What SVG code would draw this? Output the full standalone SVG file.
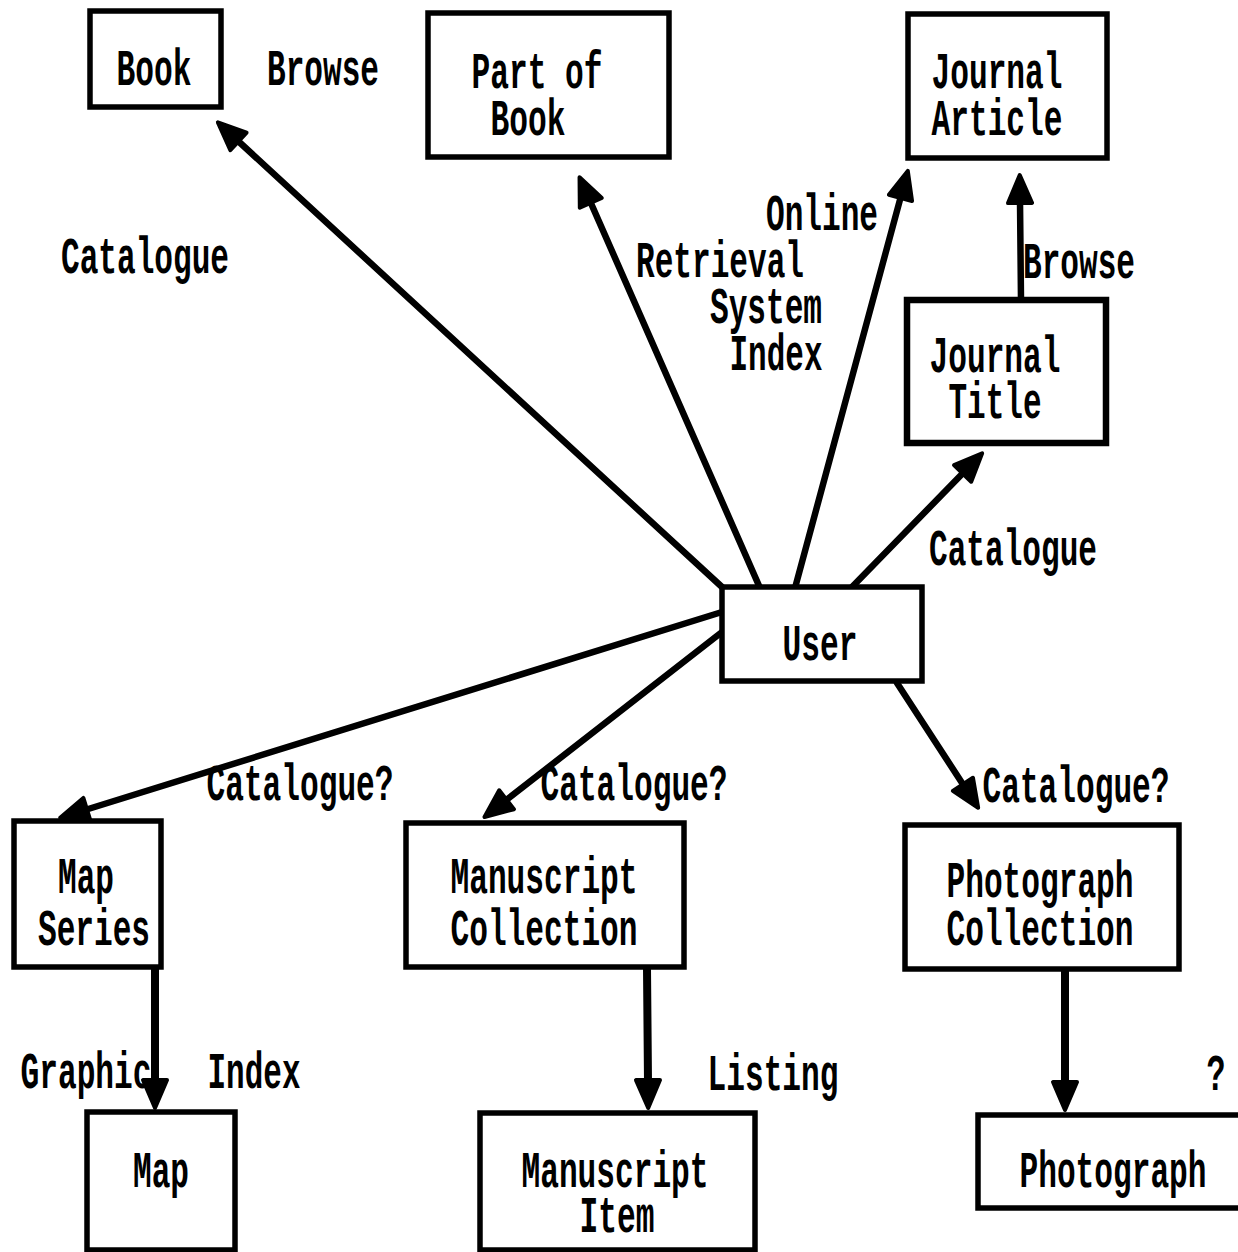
<svg xmlns="http://www.w3.org/2000/svg" width="1238" height="1252" viewBox="0 0 1238 1252">
<style>
  .box { fill: #fff; stroke: #000; stroke-width: 5.5; }
  .t { font-family: "Liberation Mono", "DejaVu Sans Mono", monospace; font-size: 52px; font-weight: bold; fill: #000; text-anchor: middle; }
  .c { fill: none; stroke: #000; stroke-width: 6.5; stroke-linecap: round; }
  .cv { stroke-width: 8; }
</style>
<defs>
  <marker id="ah" markerUnits="userSpaceOnUse" markerWidth="40" markerHeight="40" refX="2" refY="14" orient="auto" overflow="visible">
    <path d="M0,2 L28,14 L0,26 Z" fill="#000" stroke="#000" stroke-width="4" stroke-linejoin="round"/>
  </marker>
</defs>
<rect width="1238" height="1252" fill="#fff"/>

<g id="connectors">
  <line class="c" x1="722" y1="587" x2="237" y2="140" marker-end="url(#ah)"/>
  <line class="c" x1="760" y1="588" x2="590" y2="201" marker-end="url(#ah)"/>
  <line class="c" x1="795" y1="588" x2="901" y2="196" marker-end="url(#ah)"/>
  <line class="c" x1="852" y1="587" x2="964" y2="472" marker-end="url(#ah)"/>
  <line class="c" x1="1021" y1="300" x2="1020" y2="201" marker-end="url(#ah)"/>
  <line class="c" x1="722" y1="612" x2="85" y2="810" marker-end="url(#ah)"/>
  <line class="c" x1="722" y1="632" x2="505" y2="801" marker-end="url(#ah)"/>
  <line class="c" x1="897" y1="683" x2="964" y2="786" marker-end="url(#ah)"/>
  <line class="c cv" x1="155" y1="968" x2="155" y2="1082" marker-end="url(#ah)"/>
  <line class="c cv" x1="647" y1="968" x2="648" y2="1082" marker-end="url(#ah)"/>
  <line class="c cv" x1="1065" y1="970" x2="1065" y2="1084" marker-end="url(#ah)"/>
  <g id="connector-labels">
    <text class="t" x="323" y="85" textLength="112" lengthAdjust="spacingAndGlyphs">Browse</text>
    <text class="t" x="145" y="273" textLength="168" lengthAdjust="spacingAndGlyphs">Catalogue</text>
    <text class="t" x="822" y="230" textLength="112" lengthAdjust="spacingAndGlyphs">Online</text>
    <text class="t" x="720" y="277" textLength="168" lengthAdjust="spacingAndGlyphs">Retrieval</text>
    <text class="t" x="766" y="323" textLength="112" lengthAdjust="spacingAndGlyphs">System</text>
    <text class="t" x="776" y="370" textLength="93" lengthAdjust="spacingAndGlyphs">Index</text>
    <text class="t" x="1079" y="278" textLength="112" lengthAdjust="spacingAndGlyphs">Browse</text>
    <text class="t" x="1013" y="565" textLength="168" lengthAdjust="spacingAndGlyphs">Catalogue</text>
    <text class="t" x="300" y="800" textLength="187" lengthAdjust="spacingAndGlyphs">Catalogue?</text>
    <text class="t" x="634" y="800" textLength="187" lengthAdjust="spacingAndGlyphs">Catalogue?</text>
    <text class="t" x="1076" y="802" textLength="187" lengthAdjust="spacingAndGlyphs">Catalogue?</text>
    <text class="t" x="86" y="1088" textLength="131" lengthAdjust="spacingAndGlyphs">Graphic</text>
    <text class="t" x="254" y="1088" textLength="93" lengthAdjust="spacingAndGlyphs">Index</text>
    <text class="t" x="773" y="1090" textLength="131" lengthAdjust="spacingAndGlyphs">Listing</text>
    <text class="t" x="1216" y="1090" textLength="19" lengthAdjust="spacingAndGlyphs">?</text>
  </g>
</g>

<g id="book">
  <rect class="box" x="90" y="11" width="131" height="96"/>
  <text class="t" x="154" y="85" textLength="75" lengthAdjust="spacingAndGlyphs">Book</text>
</g>
<g id="part-of-book">
  <rect class="box" x="428" y="13" width="241" height="144"/>
  <text class="t" x="537" y="88" textLength="131" lengthAdjust="spacingAndGlyphs">Part of</text>
  <text class="t" x="528" y="135" textLength="75" lengthAdjust="spacingAndGlyphs">Book</text>
</g>
<g id="journal-article">
  <rect class="box" x="908" y="14" width="199" height="144"/>
  <text class="t" x="997" y="88" textLength="131" lengthAdjust="spacingAndGlyphs">Journal</text>
  <text class="t" x="997" y="135" textLength="131" lengthAdjust="spacingAndGlyphs">Article</text>
</g>
<g id="journal-title">
  <rect class="box" x="907" y="300" width="199" height="143" style="stroke-width:6.5"/>
  <text class="t" x="995" y="372" textLength="131" lengthAdjust="spacingAndGlyphs">Journal</text>
  <text class="t" x="995" y="418" textLength="93" lengthAdjust="spacingAndGlyphs">Title</text>
</g>
<g id="user">
  <rect class="box" x="722" y="587" width="200" height="94"/>
  <text class="t" x="820" y="660" textLength="75" lengthAdjust="spacingAndGlyphs">User</text>
</g>
<g id="map-series">
  <rect class="box" x="14" y="821" width="147" height="146"/>
  <text class="t" x="86" y="893" textLength="56" lengthAdjust="spacingAndGlyphs">Map</text>
  <text class="t" x="94" y="945" textLength="112" lengthAdjust="spacingAndGlyphs">Series</text>
</g>
<g id="manuscript-collection">
  <rect class="box" x="406" y="823" width="278" height="144"/>
  <text class="t" x="544" y="893" textLength="187" lengthAdjust="spacingAndGlyphs">Manuscript</text>
  <text class="t" x="544" y="945" textLength="187" lengthAdjust="spacingAndGlyphs">Collection</text>
</g>
<g id="photograph-collection">
  <rect class="box" x="905" y="825" width="274" height="144"/>
  <text class="t" x="1040" y="897" textLength="187" lengthAdjust="spacingAndGlyphs">Photograph</text>
  <text class="t" x="1040" y="945" textLength="187" lengthAdjust="spacingAndGlyphs">Collection</text>
</g>
<g id="map">
  <rect class="box" x="87" y="1112" width="148" height="138"/>
  <text class="t" x="161" y="1187" textLength="56" lengthAdjust="spacingAndGlyphs">Map</text>
</g>
<g id="manuscript-item">
  <rect class="box" x="480" y="1113" width="275" height="137"/>
  <text class="t" x="615" y="1187" textLength="187" lengthAdjust="spacingAndGlyphs">Manuscript</text>
  <text class="t" x="617" y="1232" textLength="75" lengthAdjust="spacingAndGlyphs">Item</text>
</g>
<g id="photograph">
  <rect class="box" x="978" y="1115" width="290" height="93"/>
  <text class="t" x="1113" y="1187" textLength="187" lengthAdjust="spacingAndGlyphs">Photograph</text>
</g>
</svg>
